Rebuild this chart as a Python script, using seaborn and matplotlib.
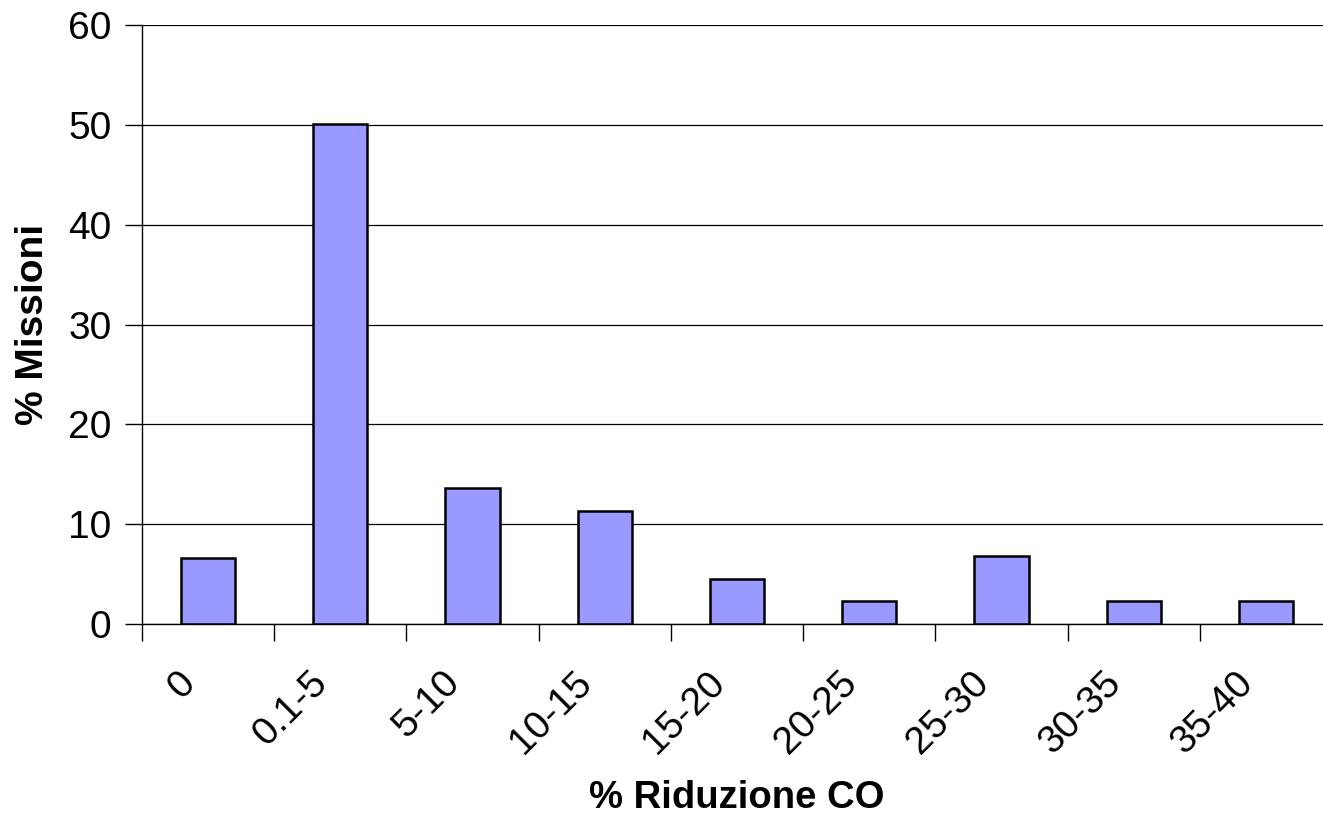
import pandas as pd
import seaborn as sns
import numpy as np
import matplotlib.pyplot as plt
import matplotlib.transforms as mtransforms

categories = ['0', '0.1-5', '5-10', '10-15', '15-20', '20-25', '25-30', '30-35', '35-40']
missioni = [6.64, 50.1, 13.6, 11.35, 4.55, 2.27, 6.82, 2.27, 2.27]

df = pd.DataFrame({'cat': categories, 'val': missioni})

sns.set_style('white')
plt.rcParams['font.family'] = ['Liberation Sans', 'DejaVu Sans']
plt.rcParams['text.color'] = 'black'
plt.rcParams['axes.labelcolor'] = 'black'
plt.rcParams['xtick.color'] = 'black'
plt.rcParams['ytick.color'] = 'black'

fig = plt.figure(figsize=(13.23, 8.14), dpi=100)
ax = fig.add_axes([0.1073, 0.2334, 0.8995, 0.7359])

sns.barplot(data=df, x='cat', y='val', color='#9999FF', saturation=1,
            width=0.41, edgecolor='black', linewidth=1.8, ax=ax, zorder=3)

ax.set_ylim(0, 60)
ax.set_xlim(-0.5, 8.5)
ax.set_yticks(np.arange(0, 61, 10))
ax.yaxis.grid(True, color='black', linewidth=0.9)
ax.set_axisbelow(True)

for s in ['top', 'right']:
    ax.spines[s].set_visible(False)
for s in ['left', 'bottom']:
    ax.spines[s].set_color('black')
    ax.spines[s].set_linewidth(1.0)

# ticks at category boundaries, labels at centres
ax.set_xticks(np.arange(len(categories)))
ax.set_xticklabels(categories, rotation=45, ha='right', va='center',
                   rotation_mode='anchor', fontsize=28)
ax.set_xticks(np.arange(-0.5, 9.0, 1.0), minor=True)
ax.tick_params(axis='x', which='major', bottom=True, length=0, pad=34)
ax.tick_params(axis='x', which='minor', bottom=True, length=12, width=1, color='black', direction='out')
ax.tick_params(axis='y', left=True, length=12, width=1, color='black', direction='out', labelsize=28, pad=10)

# nudge rotated labels a little left/down like the original
offset = mtransforms.ScaledTranslation(-0.18, -0.06, fig.dpi_scale_trans)
for lab in ax.get_xticklabels():
    lab.set_transform(lab.get_transform() + offset)

ax.set_xlabel('% Riduzione CO', fontsize=27.5, fontweight='bold', labelpad=14)
ax.set_ylabel('% Missioni', fontsize=28, fontweight='bold', labelpad=12)

fig.savefig('out.png', dpi=100)
